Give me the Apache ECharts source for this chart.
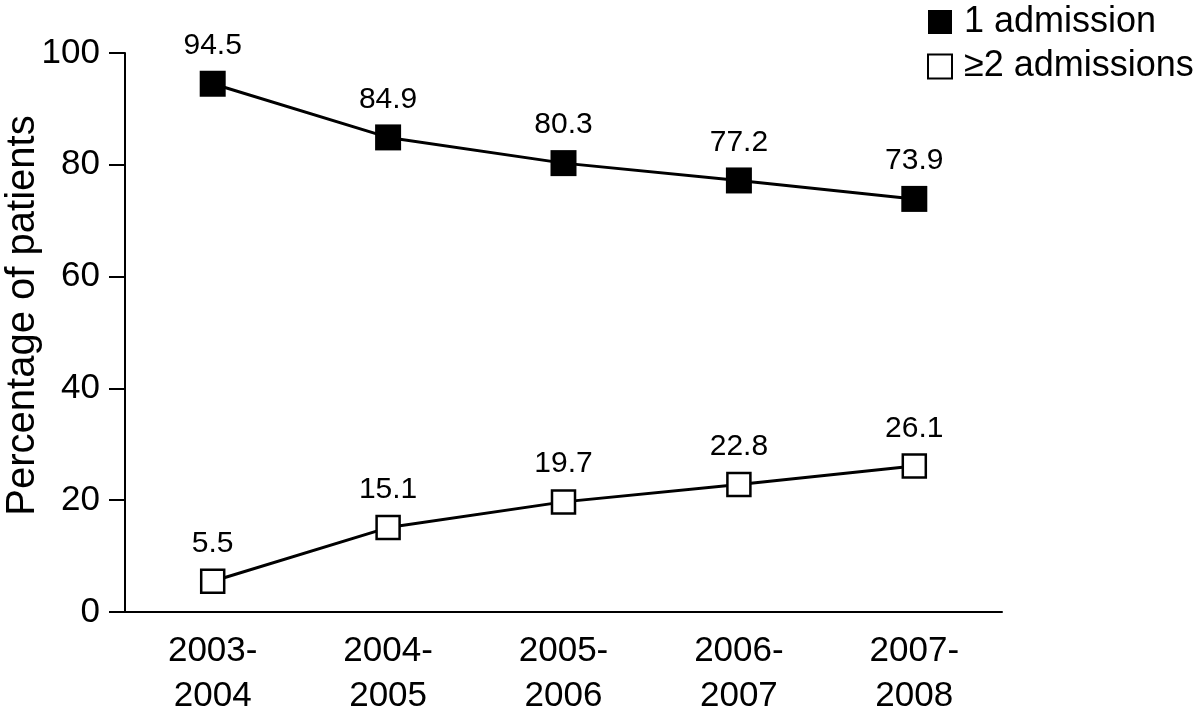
<!DOCTYPE html>
<html>
<head>
<meta charset="utf-8">
<script src="https://cdn.jsdelivr.net/npm/echarts@6/dist/echarts.min.js"></script>
<style>html,body{margin:0;padding:0;background:#fff}#c{width:1200px;height:720px}</style>
</head>
<body>
<div id="c"></div>
<script>
const categories = ['2003-\n2004', '2004-\n2005', '2005-\n2006', '2006-\n2007', '2007-\n2008'];
const oneAdmission = [94.5, 84.9, 80.3, 77.2, 73.9];
const twoPlusAdmissions = [5.5, 15.1, 19.7, 22.8, 26.1];
const seriesNames = ['1 admission', '\u22652 admissions'];
const yTicks = [0, 20, 40, 60, 80, 100];

const FONT = "'Liberation Sans', Arial, Helvetica, sans-serif";
const chart = echarts.init(document.getElementById('c'), null, {renderer: 'canvas'});
const labelCfg = {show: true, position: 'top', distance: 10, color: '#000', fontSize: 30, fontFamily: FONT};
chart.setOption({
  animation: false,
  backgroundColor: '#fff',
  textStyle: {fontFamily: FONT, color: '#000'},
  grid: {left: 125, right: 198, top: 53, bottom: 108, containLabel: false, outerBoundsMode: 'none'},
  legend: {
    orient: 'vertical', left: 922, top: -1, icon: 'rect',
    itemWidth: 24, itemHeight: 24, itemGap: 8.5,
    textStyle: {fontSize: 36, color: '#000', fontFamily: FONT, padding: [0, 0, 0, 7]},
    data: seriesNames
  },
  xAxis: {
    type: 'category', data: categories, boundaryGap: true,
    axisLine: {lineStyle: {color: '#000', width: 2}},
    axisTick: {alignWithLabel: true, length: 17, lineStyle: {color: '#000', width: 2}},
    axisLabel: {margin: 17, fontSize: 35, lineHeight: 45, color: '#000', fontFamily: FONT, interval: 0}
  },
  yAxis: {
    type: 'value', min: yTicks[0], max: yTicks[yTicks.length - 1], interval: 20,
    name: 'Percentage of patients', nameLocation: 'middle', nameGap: 82, nameRotate: 90,
    nameMoveOverlap: false,
    nameTextStyle: {fontSize: 40, color: '#000', fontFamily: FONT, padding: [0, 0, 0, 34]},
    axisLine: {show: true, lineStyle: {color: '#000', width: 2}},
    axisTick: {show: true, length: 16, lineStyle: {color: '#000', width: 2}},
    splitLine: {show: false},
    axisLabel: {margin: 25, fontSize: 35, color: '#000', fontFamily: FONT}
  },
  series: [
    {
      name: seriesNames[0], type: 'line', data: oneAdmission,
      symbol: 'rect', symbolSize: 26,
      lineStyle: {color: '#000', width: 3},
      itemStyle: {color: '#000', borderColor: '#000', borderWidth: 0},
      label: labelCfg
    },
    {
      name: seriesNames[1], type: 'line', data: twoPlusAdmissions,
      symbol: 'rect', symbolSize: 23,
      lineStyle: {color: '#000', width: 3},
      itemStyle: {color: '#fff', borderColor: '#000', borderWidth: 2.5},
      label: labelCfg
    }
  ]
});
</script>
</body>
</html>
